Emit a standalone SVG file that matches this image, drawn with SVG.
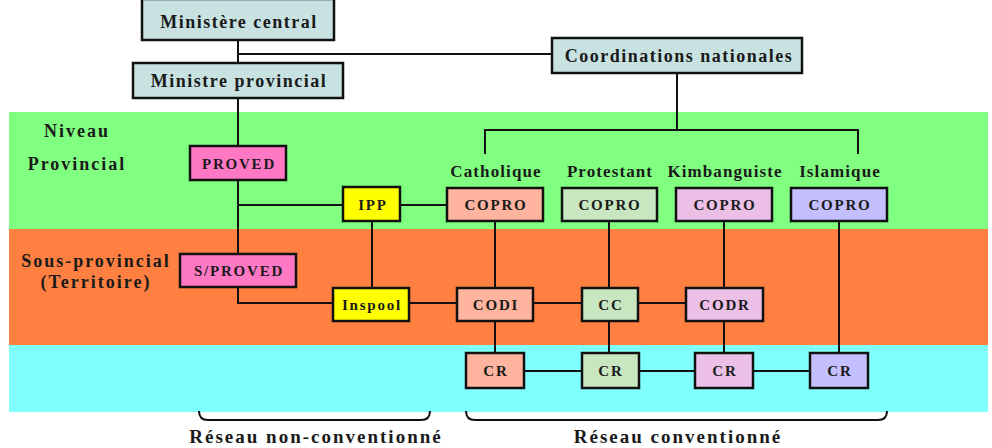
<svg xmlns="http://www.w3.org/2000/svg" width="992" height="448" viewBox="0 0 992 448">
<style>
text{font-family:"Liberation Serif","Times New Roman",serif;font-weight:bold;fill:#1a1a1a;text-anchor:middle}
.b{stroke:#111;stroke-width:2.5}
.l{stroke:#111;stroke-width:2;fill:none}
.t{font-size:15px;letter-spacing:1.8px}
.h{font-size:18px;letter-spacing:1.5px}
.lab{font-size:17px;letter-spacing:1.1px}
.side{font-size:18px;letter-spacing:2px}
.foot{font-size:19px;letter-spacing:2px}
</style>
<rect x="0" y="0" width="992" height="448" fill="#fff"/>
<g id="bands">
<rect x="9" y="112" width="979" height="117" fill="#80ff80"/>
<rect x="9" y="229" width="979" height="116" fill="#ff8040"/>
<rect x="9" y="345" width="979" height="67" fill="#80ffff"/>
<text x="77" y="137" class="side">Niveau</text>
<text x="77" y="170" class="side">Provincial</text>
<text x="96" y="267" class="side">Sous-provincial</text>
<text x="96" y="288" class="side">(Territoire)</text>
</g>
<g id="connectors" class="l">
<path d="M238 40V63M238 54H552M238 98V146M238 180V254M238 205H343M400 205H447M238 287V303H333M372 221V288M409 303H457"/>
<path d="M677 73V130M485 154V130H858V154"/>
<path d="M495 221V288M609 221V288M724 221V288M839 221V353"/>
<path d="M533 303H582M638 303H686"/>
<path d="M495 321V353M609 321V353M724 321V353"/>
<path d="M524 371H582M639 371H695M753 371H810"/>
<path d="M199 411q0 9 9 9H421q9 0 9-9"/>
<path d="M466 411q0 9 9 9H878q9 0 9-9"/>
</g>
<g id="ministere-central"><rect class="b" x="142" y="-1" width="192" height="41" fill="#c8e2e2"/><text x="239" y="28" class="h">Ministère central</text></g>
<g id="ministre-provincial"><rect class="b" x="133" y="63" width="210" height="35" fill="#c8e2e2"/><text x="239" y="87" class="h">Ministre provincial</text></g>
<g id="coordinations-nationales"><rect class="b" x="552" y="38" width="250" height="35" fill="#c8e2e2"/><text x="679" y="62" class="h">Coordinations nationales</text></g>
<g id="proved"><rect class="b" x="190" y="146" width="96" height="34" fill="#ff78c4"/><text x="239" y="169" class="t">PROVED</text></g>
<g id="sproved"><rect class="b" x="180" y="254" width="116" height="33" fill="#ff78c4"/><text x="239" y="276" class="t">S/PROVED</text></g>
<g id="ipp"><rect class="b" x="343" y="187" width="57" height="34" fill="#ffff00"/><text x="373" y="210" class="t">IPP</text></g>
<g id="inspool"><rect class="b" x="333" y="288" width="76" height="33" fill="#ffff00"/><text x="372" y="310" class="t">Inspool</text></g>
<g id="labels">
<text x="496" y="177" class="lab">Catholique</text>
<text x="610" y="177" class="lab">Protestant</text>
<text x="725" y="177" class="lab">Kimbanguiste</text>
<text x="840" y="177" class="lab">Islamique</text>
</g>
<g id="copro-catholique"><rect class="b" x="447" y="188" width="96" height="33" fill="#ffb4a0"/><text x="496" y="210" class="t">COPRO</text></g>
<g id="copro-protestant"><rect class="b" x="562" y="188" width="95" height="33" fill="#c8e6c0"/><text x="610" y="210" class="t">COPRO</text></g>
<g id="copro-kimbanguiste"><rect class="b" x="676" y="188" width="96" height="33" fill="#ecc0e6"/><text x="725" y="210" class="t">COPRO</text></g>
<g id="copro-islamique"><rect class="b" x="791" y="188" width="96" height="33" fill="#c4c0ff"/><text x="840" y="210" class="t">COPRO</text></g>
<g id="codi"><rect class="b" x="457" y="288" width="76" height="33" fill="#ffb4a0"/><text x="496" y="310" class="t">CODI</text></g>
<g id="cc"><rect class="b" x="582" y="288" width="56" height="33" fill="#c8e6c0"/><text x="611" y="310" class="t">CC</text></g>
<g id="codr"><rect class="b" x="686" y="288" width="77" height="33" fill="#ecc0e6"/><text x="725" y="310" class="t">CODR</text></g>
<g id="cr-catholique"><rect class="b" x="466" y="353" width="58" height="35" fill="#ffb4a0"/><text x="496" y="376" class="t">CR</text></g>
<g id="cr-protestant"><rect class="b" x="582" y="353" width="57" height="35" fill="#c8e6c0"/><text x="611" y="376" class="t">CR</text></g>
<g id="cr-kimbanguiste"><rect class="b" x="695" y="353" width="58" height="35" fill="#ecc0e6"/><text x="725" y="376" class="t">CR</text></g>
<g id="cr-islamique"><rect class="b" x="810" y="353" width="58" height="35" fill="#c4c0ff"/><text x="840" y="376" class="t">CR</text></g>
<g id="braces-labels">
<text x="316" y="443" class="foot">Réseau non-conventionné</text>
<text x="678" y="443" class="foot">Réseau conventionné</text>
</g>
</svg>
